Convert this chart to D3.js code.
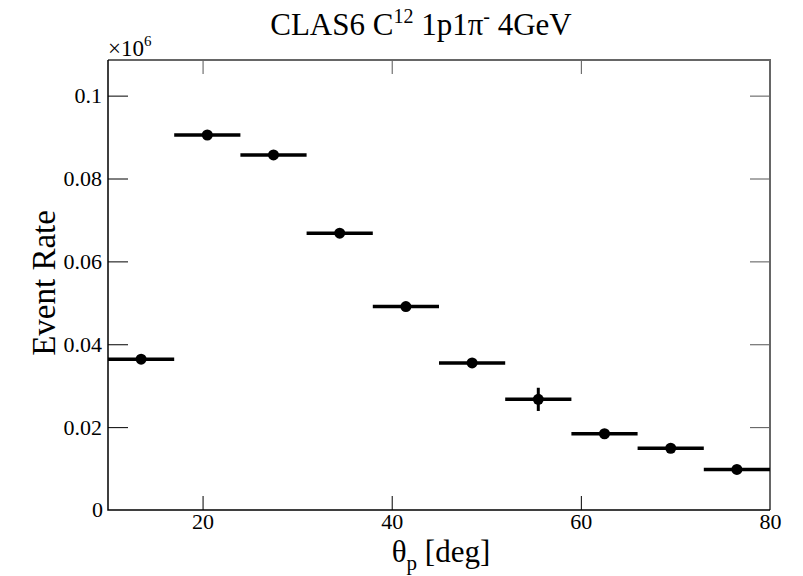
<!DOCTYPE html>
<html>
<head>
<meta charset="utf-8">
<script src="https://cdn.jsdelivr.net/npm/d3@7"></script>
<style>
  body { margin: 0; background: #fff; }
  #chart { width: 803px; height: 576px; }
  text { font-family: "Liberation Serif", "DejaVu Serif", serif; fill: #000; }
</style>
</head>
<body>
<div id="chart"></div>
<script>
// bins of theta_p (deg), 7 deg wide
const binLow  = [10, 17, 24, 31, 38, 45, 52, 59, 66, 73];
const binHigh = [17, 24, 31, 38, 45, 52, 59, 66, 73, 80];
// event rate in units of 1e6
const rate = [0.0364, 0.0905, 0.0857, 0.0668, 0.0491, 0.0355, 0.0267, 0.0184, 0.0149, 0.0098];
const rateErr = [0.0008, 0.0009, 0.0009, 0.0008, 0.0007, 0.0007, 0.0028, 0.0006, 0.0005, 0.0004];

const xTicks = [20, 40, 60, 80];
const yTicks = [0, 0.02, 0.04, 0.06, 0.08, 0.1];

const width = 803, height = 576;
const margin = {top: 60, left: 108, right: 33, bottom: 66};

const svg = d3.select("#chart")
    .append("svg")
    .attr("width", width)
    .attr("height", height);

const xScale = d3.scaleLinear()
    .domain([10, 80])
    .range([margin.left, width - margin.right]);

const yScale = d3.scaleLinear()
    .domain([0, 0.1086])
    .range([height - margin.bottom, margin.top]);

/*
AXES (ROOT style: ticks inside, on all four sides)
*/
const fmtY = d => d === 0 ? "0" : String(+d.toFixed(2));

svg.append("g")
    .attr("transform", `translate(0,${height - margin.bottom})`)
    .call(d3.axisBottom(xScale).tickValues(xTicks).tickSize(-14).tickPadding(3).tickFormat(d3.format("d")))
    .call(g => g.select(".domain").remove())
    .call(g => g.selectAll("text").attr("font-size", 22).attr("font-family", "Liberation Serif"));

svg.append("g")
    .attr("transform", `translate(${margin.left},0)`)
    .call(d3.axisLeft(yScale).tickValues(yTicks.filter(d => d > 0)).tickSize(-20).tickPadding(6).tickFormat(fmtY))
    .call(g => g.select(".domain").remove())
    .call(g => g.selectAll("text").attr("font-size", 22).attr("font-family", "Liberation Serif"));

// zero label sits at the corner
svg.append("text")
    .attr("x", margin.left - 5)
    .attr("y", yScale(0) + 7)
    .attr("text-anchor", "end")
    .attr("font-size", 22)
    .text("0");

// top and right mirrored ticks
svg.append("g")
    .attr("transform", `translate(0,${margin.top})`)
    .call(d3.axisTop(xScale).tickValues(xTicks.filter(d => d < 80)).tickSize(-14).tickFormat(""))
    .call(g => g.select(".domain").remove())
    .call(g => g.selectAll("line").attr("stroke", "#555"));

svg.append("g")
    .attr("transform", `translate(${width - margin.right},0)`)
    .call(d3.axisRight(yScale).tickValues(yTicks.filter(d => d > 0)).tickSize(-20).tickFormat(""))
    .call(g => g.select(".domain").remove())
    .call(g => g.selectAll("line").attr("stroke", "#555"));

// frame
const x0 = xScale(10), x1 = xScale(80), y0 = yScale(0), y1 = margin.top;
svg.append("path")
    .attr("d", `M${x0},${y1}H${x1}V${y0}`)
    .attr("fill", "none").attr("stroke", "#666").attr("stroke-width", 2);
svg.append("path")
    .attr("d", `M${x0},${y1}V${y0}H${x1}`)
    .attr("fill", "none").attr("stroke", "#000").attr("stroke-width", 1.5);

/*
DATA: horizontal bin width, vertical error, marker
*/
const data = rate.map((r, i) => ({lo: binLow[i], hi: binHigh[i], r: r, e: rateErr[i]}));

const pts = svg.append("g");

pts.selectAll(".xerr")
    .data(data)
    .enter()
    .append("line")
        .attr("x1", d => xScale(d.lo))
        .attr("x2", d => xScale(d.hi))
        .attr("y1", d => yScale(d.r))
        .attr("y2", d => yScale(d.r))
        .attr("stroke", "#000")
        .attr("stroke-width", 3.5);

pts.selectAll(".yerr")
    .data(data)
    .enter()
    .append("line")
        .attr("x1", d => xScale((d.lo + d.hi) / 2))
        .attr("x2", d => xScale((d.lo + d.hi) / 2))
        .attr("y1", d => yScale(d.r - d.e))
        .attr("y2", d => yScale(d.r + d.e))
        .attr("stroke", "#000")
        .attr("stroke-width", 3);

pts.selectAll("circle")
    .data(data)
    .enter()
    .append("circle")
        .attr("cx", d => xScale((d.lo + d.hi) / 2))
        .attr("cy", d => yScale(d.r))
        .attr("r", 5.5)
        .attr("fill", "#000");

/*
LABELS
*/
const title = svg.append("text")
    .attr("x", 421)
    .attr("y", 35)
    .attr("text-anchor", "middle")
    .attr("font-size", 31);
title.append("tspan").text("CLAS6 C");
title.append("tspan").attr("font-size", 20).attr("dy", -12).text("12");
title.append("tspan").attr("dy", 12).text(" 1p1\u03c0");
title.append("tspan").attr("font-size", 20).attr("dy", -12).text("-");
title.append("tspan").attr("dy", 12).text(" 4GeV");

const mult = svg.append("text")
    .attr("x", margin.left)
    .attr("y", 56)
    .attr("font-size", 23);
mult.append("tspan").text("\u00d710");
mult.append("tspan").attr("font-size", 15).attr("dy", -10).text("6");

const xl = svg.append("text")
    .attr("x", 441)
    .attr("y", 562)
    .attr("text-anchor", "middle")
    .attr("font-size", 31);
xl.append("tspan").text("\u03b8");
xl.append("tspan").attr("font-size", 21).attr("dy", 8).text("p");
xl.append("tspan").attr("dy", -8).text(" [deg]");

svg.append("text")
    .attr("transform", "rotate(-90)")
    .attr("x", -283)
    .attr("y", 55)
    .attr("text-anchor", "middle")
    .attr("font-size", 33)
    .text("Event Rate");
</script>
</body>
</html>
